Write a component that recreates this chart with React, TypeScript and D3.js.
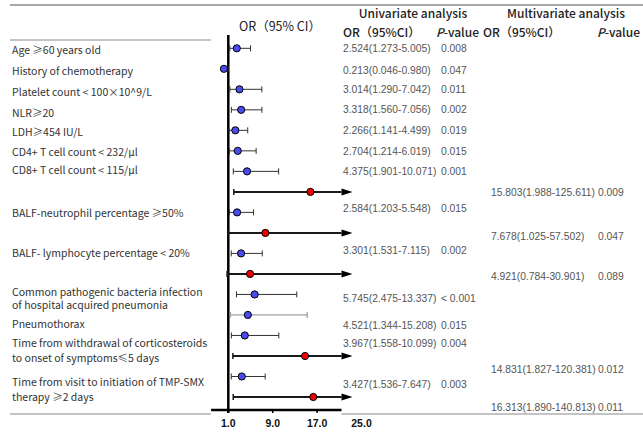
import React from 'react';
import * as d3 from 'd3';

const W = 643, H = 432;

// forest plot rows, top to bottom (U = univariate, M = multivariate)
const orValues = [2.524, 0.213, 3.014, 3.318, 2.266, 2.704, 4.375, 15.803, 2.584, 7.678, 3.301, 4.921, 5.745, 4.521, 3.967, 14.831, 3.427, 16.313];
const ciLow = [1.273, 0.046, 1.290, 1.560, 1.141, 1.214, 1.901, 1.988, 1.203, 1.025, 1.531, 0.784, 2.475, 1.344, 1.558, 1.827, 1.536, 1.890];
const ciHigh = [5.005, 0.980, 7.042, 7.056, 4.499, 6.019, 10.071, 125.611, 5.548, 57.502, 7.115, 30.901, 13.337, 15.208, 10.099, 120.381, 7.647, 140.813];
const model = ['U', 'U', 'U', 'U', 'U', 'U', 'U', 'M', 'U', 'M', 'U', 'M', 'U', 'U', 'U', 'M', 'U', 'M'];

const variables = [
  ['Age ≥60 years old'],
  ['History of chemotherapy'],
  ['Platelet count < 100×10^9/L'],
  ['NLR≥20'],
  ['LDH≥454 IU/L'],
  ['CD4+ T cell count < 232/μl'],
  ['CD8+ T cell count < 115/μl'],
  ['BALF-neutrophil percentage ≥50%'],
  ['BALF- lymphocyte percentage < 20%'],
  ['Common pathogenic bacteria infection', 'of hospital acquired pneumonia'],
  ['Pneumothorax'],
  ['Time from withdrawal of corticosteroids', 'to onset of symptoms≤5 days'],
  ['Time from visit to initiation of TMP-SMX', 'therapy ≥2 days'],
];

const uniP = ['0.008', '0.047', '0.011', '0.002', '0.019', '0.015', '0.001', '0.015', '0.002', '< 0.001', '0.015', '0.004', '0.003'];
const multiP = ['0.009', '0.047', '0.089', '0.012', '0.011'];
const xTicks = [1, 9, 17, 25];

// vertical placement (in row units) of the texts, which drift from the plot rows
const labelRow = [0.08, 1.09, 2.12, 3.15, 4.1, 5.04, 5.93, 8.04, 10.0, 11.87, 13.44, 14.38, 16.26];
const uniRow = [0.03, 1.06, 2.03, 3.0, 4.03, 5.04, 6.02, 7.8, 9.87, 12.19, 13.49, 14.38, 16.38];
const multiRow = [7.04, 9.19, 11.13, 15.64, 17.52];

const CJK = '"Noto Sans CJK SC", "Noto Sans", sans-serif';
const NUM = '"Liberation Sans", Arial, sans-serif';

export default function App() {
  const x = d3.scaleLinear().domain([1, 25]).range([228.3, 361.5]);
  const row = d3.scaleLinear().domain([0, 17]).range([48.3, 397]);
  const fmt = d3.format('.3f');

  const axisY = 410;
  const axisLeft = x(-2.1);
  const axisRight = x(21.4);

  const uniIdx = model.map((m, i) => (m === 'U' ? i : -1)).filter(i => i >= 0);
  const multiIdx = model.map((m, i) => (m === 'M' ? i : -1)).filter(i => i >= 0);
  const ciText = (i: number) => `${fmt(orValues[i])}(${fmt(ciLow[i])}-${fmt(ciHigh[i])})`;

  return (
    <svg width={W} height={H} style={{ position: 'absolute', left: 0, top: 0, background: '#fff' }}>
      {/* rules */}
      <line x1={10} x2={W} y1={5} y2={5} stroke="#8a8a8a" strokeWidth={1.5} />
      <line x1={10} x2={211} y1={40} y2={40} stroke="#8a8a8a" strokeWidth={1.2} />
      <line x1={10} x2={211} y1={414} y2={414} stroke="#8a8a8a" strokeWidth={1.2} />
      <line x1={axisRight} x2={W} y1={414} y2={414} stroke="#8a8a8a" strokeWidth={1.2} />

      {/* headers */}
      <text x={280} y={31} textAnchor="middle" fontFamily={CJK} fontSize={12.5} fill="#222">OR（95% CI）</text>
      <text x={413} y={18} textAnchor="middle" fontFamily={CJK} fontSize={12} fontWeight={500} fill="#222">Univariate analysis</text>
      <text x={566} y={18} textAnchor="middle" fontFamily={CJK} fontSize={12} fontWeight={500} fill="#222">Multivariate analysis</text>
      <text x={343} y={37} fontFamily={CJK} fontSize={12} fontWeight={500} fill="#222">OR（95%CI）</text>
      <text x={436} y={37} fontFamily={CJK} fontSize={12} fontWeight={500} fill="#222">
        <tspan fontStyle="italic">P</tspan>-value
      </text>
      <text x={483} y={37} fontFamily={CJK} fontSize={12} fontWeight={500} fill="#222">OR（95%CI）</text>
      <text x={597} y={37} fontFamily={CJK} fontSize={12} fontWeight={500} fill="#222">
        <tspan fontStyle="italic">P</tspan>-value
      </text>

      {/* variable labels */}
      {variables.map((lines, i) => (
        <text key={i} x={12} y={row(labelRow[i]) + 4} fontFamily={CJK} fontSize={10.5} fill="#333">
          {lines.map((t, j) => (
            <tspan key={j} x={12} dy={j === 0 ? 0 : i >= 11 ? 15 : 13.5}>{t}</tspan>
          ))}
        </text>
      ))}

      {/* univariate table */}
      {uniIdx.map((r, k) => (
        <g key={'u' + k} fontFamily={NUM} fontSize={10.3} fill="#555">
          <text x={343} y={row(uniRow[k]) + 3.5}>{ciText(r)}</text>
          <text x={441} y={row(uniRow[k]) + 3.5}>{uniP[k]}</text>
        </g>
      ))}

      {/* multivariate table */}
      {multiIdx.map((r, k) => (
        <g key={'m' + k} fontFamily={NUM} fontSize={10.3} fill="#555">
          <text x={491} y={row(multiRow[k]) + 3.5}>{ciText(r)}</text>
          <text x={598} y={row(multiRow[k]) + 3.5}>{multiP[k]}</text>
        </g>
      ))}

      {/* reference line at OR = 1 */}
      <line x1={x(1)} x2={x(1)} y1={35} y2={axisY + 3} stroke="#000" strokeWidth={2.5} />

      {/* confidence intervals */}
      {orValues.map((v, i) => {
        const y = row(i);
        const x0 = x(ciLow[i]);
        const multi = model[i] === 'M';
        const over = ciHigh[i] > 21.4;
        const x1 = over ? axisRight : x(ciHigh[i]);
        const col = multi ? '#1a1a1a' : i === 13 ? '#888' : '#333';
        const sw = multi ? 2 : 1;
        return (
          <g key={'ci' + i}>
            <line x1={x0} x2={x1} y1={y} y2={y} stroke={col} strokeWidth={sw} />
            <line x1={x0} x2={x0} y1={y - 3} y2={y + 3} stroke={col} strokeWidth={multi ? 1.5 : 1} />
            {over ? (
              <path d={`M${x1},${y - 3.5}L${x1 + 11},${y}L${x1},${y + 3.5}Z`} fill="#000" />
            ) : (
              <line x1={x1} x2={x1} y1={y - 3} y2={y + 3} stroke={col} strokeWidth={1} />
            )}
          </g>
        );
      })}

      {/* point estimates */}
      {orValues.map((v, i) => (
        <circle key={'p' + i} cx={x(v)} cy={row(i)} r={3.6}
          fill={model[i] === 'M' ? '#ee0000' : '#4b4bf2'} stroke="#000" strokeWidth={1} />
      ))}

      {/* x axis */}
      <line x1={axisLeft} x2={axisRight} y1={axisY} y2={axisY} stroke="#000" strokeWidth={2.5} />
      {xTicks.map(t => (
        <g key={t}>
          {x(t) <= axisRight && <line x1={x(t)} x2={x(t)} y1={axisY} y2={axisY + 3} stroke="#000" strokeWidth={1.5} />}
          <text x={x(t)} y={axisY + 17} textAnchor="middle" fontFamily={NUM} fontSize={10.5} fontWeight="bold" fill="#111">
            {d3.format('.1f')(t)}
          </text>
        </g>
      ))}
    </svg>
  );
}
